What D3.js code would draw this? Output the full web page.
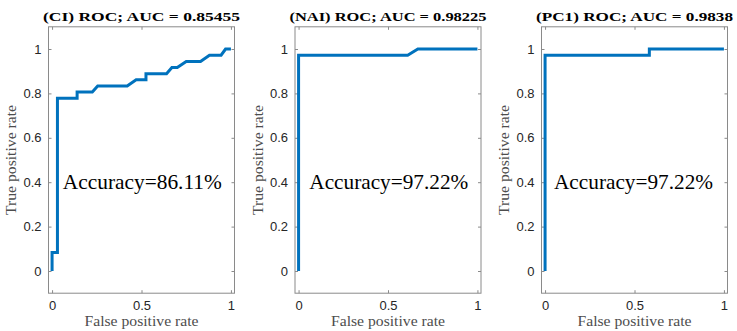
<!DOCTYPE html>
<html>
<head>
<meta charset="utf-8">
<script src="https://cdn.jsdelivr.net/npm/d3@7"></script>
<style>
  html, body { margin: 0; padding: 0; background: #fff; }
  svg { display: block; }
</style>
</head>
<body>
<svg id="chart" width="737" height="331"></svg>
<script>
// ---- data ----
const panelNames = ["CI", "NAI", "PC1"];
const aucLabels = ["0.85455", "0.98225", "0.9838"];
const accuracyLabels = ["86.11%", "97.22%", "97.22%"];
const accuracyX = [0.06, 0.06, 0.05];
const accuracyY = 0.4;

const fprCI = [0, 0, 0.03, 0.03, 0.14, 0.14, 0.225, 0.255, 0.42, 0.47, 0.525, 0.525, 0.64, 0.67, 0.70, 0.75, 0.83, 0.88, 0.945, 0.97, 1.0];
const tprCI = [0, 0.083, 0.083, 0.778, 0.778, 0.806, 0.806, 0.833, 0.833, 0.861, 0.861, 0.889, 0.889, 0.917, 0.917, 0.944, 0.944, 0.972, 0.972, 1.0, 1.0];
const fprNAI = [0, 0, 0.61, 0.667, 1.0];
const tprNAI = [0, 0.972, 0.972, 1.0, 1.0];
const fprPC1 = [0, 0, 0.583, 0.583, 1.0];
const tprPC1 = [0, 0.972, 0.972, 1.0, 1.0];

const xTicks = [0, 0.5, 1];
const yTicks = [0, 0.2, 0.4, 0.6, 0.8, 1];
const xLabel = "False positive rate";
const yLabel = "True positive rate";

const series = [
  { fpr: fprCI, tpr: tprCI },
  { fpr: fprNAI, tpr: tprNAI },
  { fpr: fprPC1, tpr: tprPC1 }
];

// ---- layout ----
const svg = d3.select("#chart");
const plotLefts = [48.5, 295, 541.5];
const plotW = 186;
const plotTop = 26.8, plotBottom = 293.2;
const axisColor = "#8a8a8a";
const tickTextColor = "#262626";
const lineColor = "#0072BD";
const fmt = d => d === 0 ? "0" : d === 1 ? "1" : String(d);

series.forEach((s, i) => {
  const left = plotLefts[i];
  const x = d3.scaleLinear().domain([-0.02, 1.02]).range([left, left + plotW]);
  const y = d3.scaleLinear().domain([-0.1, 1.1]).range([plotBottom, plotTop]);
  const g = svg.append("g");

  // axes (ticks inward, box on)
  const tickStyle = sel => {
    sel.select(".domain").remove();
    sel.selectAll(".tick line").attr("stroke", axisColor);
    sel.selectAll(".tick text").attr("fill", tickTextColor)
      .style("font-family", "'Liberation Sans', Arial, sans-serif").style("font-size", "13px");
  };
  const bottomAxis = g.append("g").attr("transform", `translate(0,${plotBottom})`)
    .call(d3.axisBottom(x).tickValues(xTicks).tickFormat(fmt).tickSizeInner(-3).tickSizeOuter(0).tickPadding(6))
    .call(tickStyle);
  bottomAxis.selectAll(".tick text").attr("dy", "0.8em");
  g.append("g").attr("transform", `translate(0,${plotTop})`)
    .call(d3.axisTop(x).tickValues(xTicks).tickFormat("").tickSizeInner(-3).tickSizeOuter(0))
    .call(tickStyle);
  g.append("g").attr("transform", `translate(${left},0)`)
    .call(d3.axisLeft(y).tickValues(yTicks).tickFormat(fmt).tickSizeInner(-3).tickSizeOuter(0).tickPadding(7))
    .call(tickStyle);
  g.append("g").attr("transform", `translate(${left + plotW},0)`)
    .call(d3.axisRight(y).tickValues(yTicks).tickFormat("").tickSizeInner(-3).tickSizeOuter(0))
    .call(tickStyle);

  // box
  g.append("rect").attr("x", left).attr("y", plotTop)
    .attr("width", plotW).attr("height", plotBottom - plotTop)
    .attr("fill", "none").attr("stroke", axisColor).attr("stroke-width", 1);

  // ROC line
  const pts = s.fpr.map((f, k) => [f, s.tpr[k]]);
  g.append("path").datum(pts)
    .attr("d", d3.line().x(d => x(d[0])).y(d => y(d[1])))
    .attr("fill", "none").attr("stroke", lineColor).attr("stroke-width", 3)
    .attr("stroke-linejoin", "miter");

  // title
  g.append("text")
    .attr("x", left + plotW / 2).attr("y", 20.5)
    .attr("text-anchor", "middle")
    .attr("textLength", 197).attr("lengthAdjust", "spacingAndGlyphs")
    .style("font-family", "'Liberation Serif', 'Times New Roman', serif")
    .style("font-weight", "bold").style("font-size", "13.5px").attr("fill", "#000")
    .text(`(${panelNames[i]}) ROC; AUC = ${aucLabels[i]}`);

  // accuracy annotation
  g.append("text")
    .attr("x", x(accuracyX[i])).attr("y", y(accuracyY))
    .attr("dy", "0.33em")
    .attr("textLength", 159).attr("lengthAdjust", "spacingAndGlyphs")
    .style("font-family", "'Liberation Serif', 'Times New Roman', serif")
    .style("font-size", "21px").attr("fill", "#000")
    .text(`Accuracy=${accuracyLabels[i]}`);

  // x label
  g.append("text")
    .attr("x", x(0.5)).attr("y", 325.5)
    .attr("text-anchor", "middle")
    .attr("textLength", 114).attr("lengthAdjust", "spacingAndGlyphs")
    .style("font-family", "'Liberation Serif', 'Times New Roman', serif")
    .style("font-size", "14px").attr("fill", "#4d4d4d")
    .text(xLabel);

  // y label
  g.append("text")
    .attr("transform", `translate(${left - 32.5},${(plotTop + plotBottom) / 2}) rotate(-90)`)
    .attr("text-anchor", "middle")
    .attr("textLength", 110).attr("lengthAdjust", "spacingAndGlyphs")
    .style("font-family", "'Liberation Serif', 'Times New Roman', serif")
    .style("font-size", "14px").attr("fill", "#4d4d4d")
    .text(yLabel);
});
</script>
</body>
</html>
